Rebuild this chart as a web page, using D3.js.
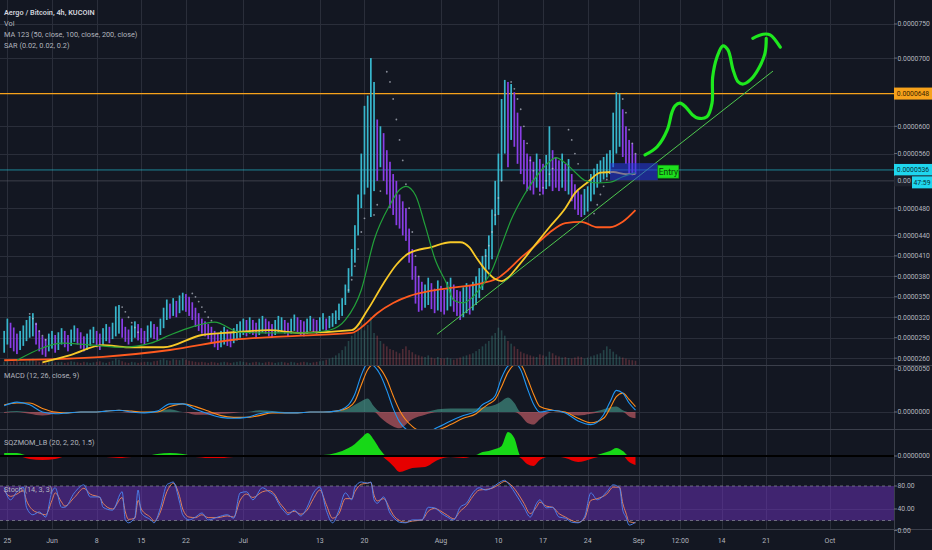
<!DOCTYPE html>
<html><head><meta charset="utf-8">
<script src="https://cdn.jsdelivr.net/npm/d3@7"></script>
<style>body{margin:0;background:#131722;}svg{display:block;}</style>
</head><body>
<svg id="c" width="932" height="550"></svg>
<script>
// ---------- DATA (prices in units of 1e-7 BTC) ----------
const barStart = "2020-05-24 12"; // 12h bars
const highs = [300,318,312,305,296,300,308,316,322,326,312,300,292,288,296,300,294,
298,304,300,294,302,308,304,298,292,296,302,306,300,296,304,310,306,312,336,338,318,306,302,308,314,310,304,300,
308,314,310,306,318,334,346,340,348,344,352,356,354,350,342,334,326,318,
314,310,306,300,296,300,306,302,298,304,310,314,318,316,320,316,312,318,322,318,314,310,316,322,320,316,312,318,324,320,316,314,318,322,318,316,320,326,
318,322,326,330,340,348,368,392,420,455,500,560,630,645,700,665,610,600,590,565,
548,530,520,500,490,480,450,420,395,380,372,368,378,370,362,374,366,360,
372,378,368,360,358,364,370,366,372,380,392,410,420,440,478,520,560,640,668,665,662,650,620,600,580,560,
556,548,560,552,545,558,600,565,555,550,560,545,552,530,515,505,500,508,512,530,538,545,550,555,560,565,620,650,648,625,600,580,575,560];
const lows = [268,280,275,270,266,272,278,285,290,292,280,270,265,262,270,274,268,
272,280,276,270,278,284,280,274,270,272,278,282,276,272,280,285,282,288,292,296,290,284,280,284,290,286,282,280,
284,290,288,286,294,304,316,318,322,320,326,330,328,322,316,306,300,296,
292,288,282,276,272,276,280,278,276,282,286,290,294,292,296,294,290,294,298,296,292,290,294,298,300,296,292,296,300,298,294,292,296,300,298,296,298,302,
300,304,306,310,316,322,338,356,380,400,440,480,500,510,467,505,520,540,520,500,
480,470,455,450,440,432,400,375,340,328,330,334,338,332,326,330,328,324,
330,336,328,322,316,320,326,324,330,338,348,360,372,390,405,455,470,520,560,540,580,570,545,530,515,505,
506,500,510,504,500,508,512,505,510,505,510,505,500,490,478,470,467,470,475,490,500,510,518,522,525,530,540,560,570,555,545,530,528,530];
const volumes = [6,8,5,7,9,6,5,7,10,12,8,6,5,4,6,7,5,
5,6,4,5,7,6,5,4,6,5,4,5,6,7,5,4,6,8,12,10,7,5,4,6,5,4,5,6,
6,5,7,8,10,12,9,8,11,10,9,12,10,8,7,6,5,6,
5,4,6,5,4,5,6,5,4,5,6,7,6,5,4,5,6,5,4,5,6,5,4,5,6,5,4,6,5,4,5,6,5,4,5,6,7,8,
10,12,14,18,22,28,35,45,55,60,70,80,65,75,90,60,55,45,40,35,
30,28,25,22,30,35,28,24,20,18,16,15,18,14,12,15,13,12,
14,12,10,12,14,16,18,20,22,26,30,35,40,45,55,60,70,65,55,45,40,35,30,25,22,20,
18,16,15,20,18,16,25,22,18,16,14,15,13,12,14,16,15,12,14,16,18,20,22,28,35,30,25,20,16,14,12,10,9,8];

const ma50Idx = [4,12,18,28,37,46,52,59,66,74,84,93,102,107,112,116,121,124,126,129,132,135,139,141,144,147,150,153,156,159,163,168,171,173,176,179,182,186,190,194,198];
const ma50 = [257,275,282,279,276,282,294,306,313,298,297,297,301,316,360,433,485,507,512,499,455,407,367,345,341,350,367,389,426,463,499,533,548,554,546,533,521,517,518,526,532];
const ma100Idx = [12,21,31,39,50,62,72,83,93,109,114,119,123,127,134,140,143,146,148,151,154,156,158,161,166,171,176,179,183,187,191,195,198];
const ma100 = [254,265,279,276,276,294,298,301,297,301,331,370,397,414,423,430,430,422,408,389,376,373,378,394,423,452,480,502,518,532,533,530,530];
const ma200Idx = [0,31,52,72,93,109,113,117,122,127,134,140,150,155,158,162,166,171,176,181,186,190,194,198];
const ma200 = [257,262,272,287,293,297,309,326,341,351,359,363,370,378,389,407,423,444,458,460,452,452,460,477];

const sarIdx = [8,9,10,11,12,13,37,38,39,40,41,42,59,60,61,62,63,64,65,108,109,110,111,112,113,116,117,118,120,121,122,123,124,125,126,127,128,129,130,150,151,152,153,154,155,156,159,160,161,162,163,164,165,166,168,169,170,171,172,177,178,179,180,185,186,187,188,189,190,194,195,196,197,198];
const sarVal = [325,318,310,300,293,287,335,328,320,312,305,298,355,350,343,335,328,320,315,360,375,395,420,445,465,470,485,505,680,665,640,610,580,550,515,480,445,410,380,395,410,425,445,470,495,520,665,655,640,625,600,575,550,535,500,510,520,530,538,595,580,560,545,472,485,500,512,522,532,640,620,595,575,560];

const priceTicks = [750,700,600,560,480,440,410,380,350,320,290,260];
const resistance = 648, lastPrice = 536, secondPrice = 520;

const trendDays = [60.37,113.06], trendPrices = [295,681];
const drawDays = [93.0,94.9,96.5,97.2,97.7,98.5,99.4,100.4,101.3,102.7,103.5,103.6,104.3,105.2,106.0,106.8,107.6,108.4,109.5,110.7,111.8,112.0];
const drawPrices = [558,570,595,620,630,634,628,617,612,614,634,672,702,718,712,683,665,662,668,683,707,729];
const arrowDays = [109.9,111.5,112.6,114.2], arrowPrices = [729,735,734,716];
const entryDays = [87.5,95.0], entryPrices = [546,521];

const macdIdx = [0,4,8,12,16,20,24,28,32,36,40,44,48,52,56,60,64,68,72,76,80,84,88,92,96,100,104,108,110,112,114,116,118,120,122,124,128,132,136,140,144,148,150,152,154,156,158,160,162,164,166,168,172,176,180,184,188,190,192,194,196,198];
const macdLine = [7,11,8,0,-2,-1,0,0,1,2,0,-1,1,9,9,3,-2,-6,-7,-6,-2,0,-1,-1,0,0,1,8,20,41,54,51,41,24,4,-11,-22,-23,-17,-10,-4,1,8,12,18,38,51,54,47,27,9,0,2,-1,-10,-14,-3,11,24,21,10,2];
const signalLine = [8,10,10,4,0,-1,0,0,1,2,1,0,0,6,9,6,1,-4,-6,-6,-4,-1,-1,-1,0,0,1,5,12,30,47,53,48,36,18,2,-16,-22,-20,-14,-7,-2,4,9,14,28,44,52,52,38,20,6,2,0,-7,-12,-7,4,17,21,14,6];
const macdHist = [-1,1,-2,-4,-2,0,0,0,0,0,-1,-1,1,3,0,-3,-3,-2,-1,0,2,1,0,0,0,0,1,4,8,12,15,6,-6,-12,-16,-18,-8,-3,3,4,4,4,5,6,8,12,16,10,-4,-12,-14,-8,0,-1,-4,-2,3,5,6,2,-5,-7];
const sqzMom = [3,3,-3,-4,-3,0,0,-1,-1,-2,-1,0,2,3,2,-1,-2,-2,-1,0,1,1,0,0,1,1,3,8,12,18,23,16,6,-4,-10,-16,-12,-11,-4,-1,-2,1,4,5,7,10,24,18,-2,-8,-10,-4,0,-2,-6,-3,3,5,8,5,-6,-9];

const stochIdx = [0,2,4,6,7,9,11,13,15,16,18,19,22,25,27,30,31,34,37,38,39,41,42,43,46,47,49,51,52,53,55,56,58,60,62,64,67,70,72,74,76,78,81,83,85,86,88,89,91,93,95,97,99,101,103,105,107,109,110,112,114,115,116,117,119,121,122,124,126,128,131,133,135,137,139,141,143,145,147,149,151,153,155,157,158,161,163,165,167,168,170,172,174,176,178,180,182,184,186,189,191,193,194,195,196,198];
const stochK = [77,56,70,78,43,30,35,26,70,77,43,43,68,82,61,61,43,38,70,21,16,26,73,33,21,16,42,82,85,87,52,30,21,26,33,21,26,30,24,68,70,56,77,70,61,50,35,30,38,28,43,68,78,38,16,38,68,56,78,87,85,87,56,50,61,33,26,17,16,21,21,43,42,33,26,21,43,50,68,77,73,77,85,90,85,61,43,26,50,56,42,43,26,24,17,16,26,68,56,70,82,77,38,26,12,17];
const stochD = [72,62,66,72,55,38,33,30,55,68,52,45,60,76,66,60,50,40,60,35,22,24,55,40,25,19,35,70,80,85,62,40,26,25,30,25,25,28,26,55,66,60,70,72,64,54,40,33,36,31,38,58,73,48,24,32,58,58,70,83,85,86,64,54,58,40,30,20,17,19,21,36,41,36,29,23,36,46,62,73,74,76,82,88,86,68,50,32,44,52,45,43,32,26,20,17,23,55,58,66,78,78,50,33,18,16];

const tickDates = ["2020-05-25 00","2020-06-01 00","2020-06-08 00","2020-06-15 00","2020-06-22 00","2020-07-01 00","2020-07-13 00","2020-07-20 00","2020-08-01 00","2020-08-10 00","2020-08-17 00","2020-08-24 00","2020-09-01 00","2020-09-07 12","2020-09-14 00","2020-09-21 00","2020-10-01 00"];
const tickLabels = ["25","Jun","8","15","22","Jul","13","20","Aug","10","17","24","Sep","12:00","14","21","Oct"];

// ---------- LAYOUT ----------
const W=932,H=550,AX=894;
const P={main:[0,365],macd:[366,429],sqz:[430,475],stoch:[476,529]};
const BG="#131722",GRID="#2a2e3a",SEP="#3b3f4b",TXT="#b2b5be",FONT="Roboto, 'Liberation Sans', sans-serif";
const parse=d3.timeParse("%Y-%m-%d %H");
const t0=parse(barStart), jun1=parse("2020-06-01 00");
const barDate=i=>d3.timeHour.offset(t0,12*i);
const dayDate=d=>new Date(+jun1+d*864e5);
const x=d3.scaleTime().domain([jun1,parse("2020-10-01 00")]).range([52,830]);
const y=d3.scaleLinear().domain([250,785.2]).range([365,0]);
const vy=d3.scaleLinear().domain([0,90]).range([365,317]);
const my=d3.scaleLinear().domain([0,50]).range([412,367]);
const sy=d3.scaleLinear().domain([0,24]).range([456,432]);
const ky=d3.scaleLinear().domain([0,80]).range([532,486]);
const fmt=v=>(v/1e7).toFixed(7);

const svg=d3.select("#c");
svg.append("rect").attr("width",W).attr("height",H).attr("fill",BG);
const defs=svg.append("defs");
Object.entries(P).forEach(([k,[a,b]])=>{
  defs.append("clipPath").attr("id","clip-"+k).append("rect").attr("x",0).attr("y",a).attr("width",AX).attr("height",b-a);
});
const pane=k=>svg.append("g").attr("clip-path",`url(#clip-${k})`);

// grid
const g0=svg.append("g");
tickDates.forEach(s=>{const xx=Math.round(x(parse(s)))+0.5;
  g0.append("line").attr("x1",xx).attr("x2",xx).attr("y1",0).attr("y2",529).attr("stroke",GRID);});
priceTicks.forEach(v=>{const yy=Math.round(y(v))+0.5;
  g0.append("line").attr("x1",0).attr("x2",AX).attr("y1",yy).attr("y2",yy).attr("stroke",GRID);});
[my(0),sy(0),ky(40)].forEach(yy=>{yy=Math.round(yy)+0.5;
  g0.append("line").attr("x1",0).attr("x2",AX).attr("y1",yy).attr("y2",yy).attr("stroke",GRID);});

// ---------- MAIN PANE ----------
const gm=pane("main");
const bars=highs.map((h,i)=>({i,d:barDate(i),h,l:lows[i],v:volumes[i]}));
bars.forEach((b,i)=>{const m=(b.h+b.l)/2,pm=i?(bars[i-1].h+bars[i-1].l)/2:m;b.up=m>=pm;});
// volume
gm.selectAll(".vol").data(bars).join("rect")
  .attr("x",b=>x(b.d)-0.8).attr("width",1.6).attr("y",b=>vy(b.v)).attr("height",b=>365-vy(b.v))
  .attr("fill",b=>b.up?"rgba(70,150,140,0.35)":"rgba(190,80,90,0.35)");
// horizontal price lines
gm.append("line").attr("x1",0).attr("x2",AX).attr("y1",y(resistance)).attr("y2",y(resistance)).attr("stroke","#f7a21b").attr("stroke-width",1.2);
gm.append("line").attr("x1",0).attr("x2",AX).attr("y1",y(lastPrice)).attr("y2",y(lastPrice)).attr("stroke","#26c6da").attr("stroke-width",0.8).attr("opacity",0.8);
gm.append("line").attr("x1",0).attr("x2",AX).attr("y1",y(secondPrice)).attr("y2",y(secondPrice)).attr("stroke","#5d606b").attr("stroke-width",0.8).attr("opacity",0.7);
// bars
gm.selectAll(".bar").data(bars).join("rect")
  .attr("x",b=>x(b.d)-0.85).attr("width",1.7).attr("y",b=>y(b.h)).attr("height",b=>y(b.l)-y(b.h))
  .attr("fill",b=>b.up?"#38b6cc":"#8a3ee6");
// SAR
gm.selectAll(".sar").data(sarIdx.map((i,k)=>[i,sarVal[k]])).join("circle")
  .attr("cx",d=>x(barDate(d[0]))).attr("cy",d=>y(d[1])).attr("r",0.9).attr("fill","#c8ccd8").attr("opacity",0.65);
// MAs
const ln=(ys)=>d3.line().x(d=>x(barDate(d[0]))).y(d=>ys(d[1])).curve(d3.curveMonotoneX);
const maLine=(idx,vals,col,w)=>gm.append("path").attr("d",ln(y)(idx.map((i,k)=>[i,vals[k]]))).attr("fill","none").attr("stroke",col).attr("stroke-width",w);
maLine(ma200Idx,ma200,"#ff5a1f",1.8);
maLine(ma100Idx,ma100,"#f8c928",1.8);
maLine(ma50Idx,ma50,"#22a13a",1.2);
// trend line
gm.append("line").attr("x1",x(dayDate(trendDays[0]))).attr("y1",y(trendPrices[0]))
  .attr("x2",x(dayDate(trendDays[1]))).attr("y2",y(trendPrices[1])).attr("stroke","#4fc94f").attr("stroke-width",1);
// entry box
const ex0=x(dayDate(entryDays[0])),ex1=x(dayDate(entryDays[1]));
gm.append("rect").attr("x",ex0).attr("y",y(entryPrices[0])).attr("width",ex1-ex0).attr("height",y(entryPrices[1])-y(entryPrices[0]))
  .attr("fill","rgba(38,58,230,0.55)");
const ly=(y(entryPrices[0])+y(entryPrices[1]))/2;
gm.append("rect").attr("x",ex1).attr("y",ly-6.5).attr("width",21).attr("height",13).attr("fill","#1ee01e").attr("stroke","#0d8a0d").attr("stroke-width",0.6);
gm.append("text").attr("x",ex1+10.5).attr("y",ly+3).attr("text-anchor","middle").attr("font-family",FONT).attr("font-size",8.5).attr("fill","#0b3b0b").text("Entry");
// hand-drawn projection
const dl=d3.line().x(d=>x(dayDate(d[0]))).y(d=>y(d[1])).curve(d3.curveCatmullRom);
gm.append("path").attr("d",dl(drawDays.map((d,k)=>[d,drawPrices[k]]))).attr("fill","none").attr("stroke","#1ee81e").attr("stroke-width",3.2).attr("stroke-linecap","round");
gm.append("path").attr("d",dl(arrowDays.map((d,k)=>[d,arrowPrices[k]]))).attr("fill","none").attr("stroke","#1ee81e").attr("stroke-width",3.2).attr("stroke-linecap","round");

// ---------- MACD ----------
const gd=pane("macd");
const mh=macdIdx.map((i,k)=>[i,macdHist[k]]);
const ar=(ys,fn)=>d3.area().x(d=>x(barDate(d[0]))).y0(ys(0)).y1(d=>ys(fn(d[1]))).curve(d3.curveMonotoneX);
gd.append("path").attr("d",ar(my,v=>Math.max(v,0))(mh)).attr("fill","rgba(72,160,145,0.6)");
gd.append("path").attr("d",ar(my,v=>Math.min(v,0))(mh)).attr("fill","rgba(215,100,110,0.6)");
gd.append("path").attr("d",ln(my)(macdIdx.map((i,k)=>[i,signalLine[k]]))).attr("fill","none").attr("stroke","#ff8c1a").attr("stroke-width",1.1);
gd.append("path").attr("d",ln(my)(macdIdx.map((i,k)=>[i,macdLine[k]]))).attr("fill","none").attr("stroke","#2196f3").attr("stroke-width",1.1);

// ---------- SQZMOM ----------
const gs=pane("sqz");
const sq=macdIdx.map((i,k)=>[i,sqzMom[k]]);
gs.append("path").attr("d",ar(sy,v=>Math.max(v,0))(sq)).attr("fill","#17d817");
gs.append("path").attr("d",ar(sy,v=>Math.min(v,0))(sq)).attr("fill","#e60000");
gs.append("line").attr("x1",0).attr("x2",AX).attr("y1",sy(0)).attr("y2",sy(0)).attr("stroke","#000").attr("stroke-width",2);

// ---------- STOCH ----------
const gk=pane("stoch");
gk.append("rect").attr("x",0).attr("width",AX).attr("y",ky(80)).attr("height",ky(20)-ky(80)).attr("fill","rgba(110,50,190,0.5)");
[80,20].forEach(v=>gk.append("line").attr("x1",0).attr("x2",AX).attr("y1",ky(v)).attr("y2",ky(v)).attr("stroke","#8a8d99").attr("stroke-dasharray","3,3").attr("stroke-width",0.7));
gk.append("path").attr("d",ln(ky)(stochIdx.map((i,k)=>[i,stochD[k]]))).attr("fill","none").attr("stroke","#f0875a").attr("stroke-width",1).attr("opacity",0.9);
gk.append("path").attr("d",ln(ky)(stochIdx.map((i,k)=>[i,stochK[k]]))).attr("fill","none").attr("stroke","#4d86f5").attr("stroke-width",1).attr("opacity",0.9);

// ---------- SEPARATORS & AXES ----------
[365.5,429.5,475.5].forEach(yy=>svg.append("line").attr("x1",0).attr("x2",W).attr("y1",yy).attr("y2",yy).attr("stroke",SEP).attr("stroke-width",1.2));
svg.append("line").attr("x1",0).attr("x2",W).attr("y1",529.5).attr("y2",529.5).attr("stroke",SEP).attr("stroke-width",1.2);
svg.append("line").attr("x1",AX+0.5).attr("x2",AX+0.5).attr("y1",0).attr("y2",550).attr("stroke",SEP).attr("stroke-width",1);

const axT=(yy,txt,col)=>{
  svg.append("line").attr("x1",AX).attr("x2",AX+3).attr("y1",yy).attr("y2",yy).attr("stroke","#6a6d78");
  svg.append("text").attr("x",AX+3.5).attr("y",yy+2.4).attr("font-family",FONT).attr("font-size",6.8).attr("fill",col||TXT).text(txt);
};
priceTicks.forEach(v=>axT(y(v),fmt(v)));
axT(my(50)+2,fmt(50));axT(my(0),fmt(0));axT(sy(0),fmt(0));
axT(ky(80),"80.00");axT(ky(40),"40.00");axT(ky(0)-1.5,"0.00");

const tag=(yy,txt,bg,fg,xx,w)=>{
  svg.append("rect").attr("x",xx).attr("y",yy-6).attr("width",w).attr("height",12).attr("fill",bg);
  svg.append("text").attr("x",xx+w/2).attr("y",yy+2.4).attr("text-anchor","middle").attr("font-family",FONT).attr("font-size",6.8).attr("fill",fg).text(txt);
};
tag(y(resistance),fmt(resistance),"#f7a21b","#3a2400",AX,38);
tag(y(lastPrice),fmt(lastPrice),"#1fd6ee","#07323a",AX,38);
svg.append("rect").attr("x",AX+0.5).attr("y",y(secondPrice)-5.5).attr("width",37.5).attr("height",11).attr("fill","#1e222d");
svg.append("text").attr("x",AX+3.5).attr("y",y(secondPrice)+2.4).attr("font-family",FONT).attr("font-size",6.8).attr("fill",TXT).text("0.00");
tag(y(secondPrice)+1.5,"47:59","#1fd6ee","#07323a",912,20);

// time labels
tickDates.forEach((s,k)=>svg.append("text").attr("x",x(parse(s))).attr("y",543).attr("text-anchor","middle")
  .attr("font-family",FONT).attr("font-size",7).attr("fill",TXT).text(tickLabels[k]));

// legends
const lg=(yy,txt,col,wt)=>svg.append("text").attr("x",4).attr("y",yy).attr("font-family",FONT).attr("font-size",7.3)
  .attr("font-weight",wt||400).attr("fill",col||TXT).text(txt);
lg(14.5,"Aergo / Bitcoin, 4h, KUCOIN","#d1d4dc",600);
lg(25.5,"Vol");
lg(36.5,"MA 123 (50, close, 100, close, 200, close)");
lg(47.5,"SAR (0.02, 0.02, 0.2)");
lg(378,"MACD (12, 26, close, 9)");
lg(445,"SQZMOM_LB (20, 2, 20, 1.5)");
lg(492,"Stoch (14, 3, 3)");
</script>
</body></html>
